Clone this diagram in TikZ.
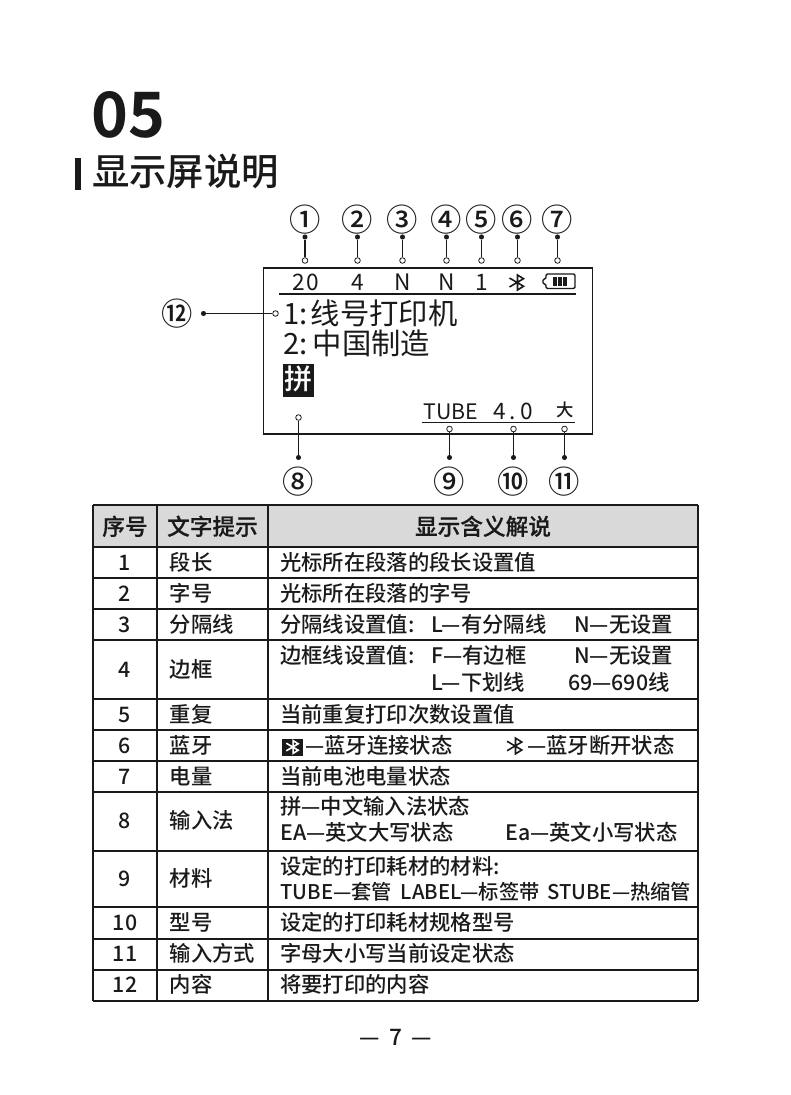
\documentclass[tikz,border=0pt]{standalone}
\usepackage{fontspec}
\setmainfont{Noto Sans CJK SC Medium}[BoldFont={Noto Sans CJK SC Bold}]
\newfontfamily\regfont{Noto Sans CJK SC}
\newcommand{\fs}[1]{\fontsize{#1}{#1}\selectfont}
\definecolor{hdr}{HTML}{D9D9D9}
\definecolor{ink}{HTML}{1A1A1A}
\tikzset{
  txt/.style={inner sep=0pt,text=ink,font=\fs{#1},text height=#1*.85pt,text depth=#1*.15pt},
  cell/.style={txt=16,anchor=west},
  small cell/.style={txt=15.2,anchor=west},
  cnum/.style={txt=16,anchor=center},
  hcell/.style={txt=17,anchor=center,font=\fs{17}\addfontfeature{FakeBold=0.4}},
  lcd/.style={txt=17,anchor=center},
  big/.style={txt=22,anchor=west},
  callout/.style={txt=23.5,anchor=center},
  rule/.style={line width=1.5pt,ink},
  lead/.style={line width=1pt,ink},
  opendot/.style={circle,draw=ink,fill=white,line width=.6pt,minimum size=4.2pt,inner sep=0pt},
  soliddot/.style={circle,fill=ink,minimum size=3.8pt,inner sep=0pt},
}
\newcommand{\btrune}[4]{% x,y,scale,colour
  \draw[#4,line width=1.2pt,line join=miter,x=#3*.75pt,y=-#3*.75pt,shift={(#1*.75pt,-#2*.75pt)}]
   (-8.5,-4.5) -- (5.5,3.8) -- (-.5,7.5) -- (-.5,-7.5) -- (5.5,-3.8) -- (-8.5,4.5);
}
\begin{document}
\begin{tikzpicture}[x=.75pt,y=-.75pt]
\useasboundingbox (0,0) rectangle (790,1095);
\fill[white] (0,0) rectangle (790,1095);
% title
\node[txt=47,anchor=west,font=\fs{47}\bfseries] (chap) at (91.5,116) {05};
\fill[ink] (75,158) rectangle (81,190);
\node[txt=28,anchor=west] (title) at (92,172) {显示屏说明};
% screen
\draw[line width=1.4pt,ink] (263.5,268) rectangle (592.5,434);
\draw[line width=1.1pt,ink] (279,294) -- (576,294);
\draw[line width=1.1pt,ink] (422,422.5) -- (574.5,422.5);
\node[lcd,font=\fs{17}\regfont\addfontfeature{LetterSpace=8}] (s1) at (306,283) {20};
\node[lcd,font=\fs{17}\regfont] (s2) at (357.5,283) {4};
\node[lcd,font=\fs{17}\regfont] (s3) at (402.5,283) {N};
\node[lcd,font=\fs{17}\regfont] (s4) at (446.5,283) {N};
\node[lcd,font=\fs{17}\regfont] (s5) at (481.5,283) {1};
\btrune{518}{282.5}{1}{ink}
% battery
\draw[ink,line width=1.1pt,rounded corners=1pt] (546,274) -- (575,274) -- (575,288.5) -- (546,288.5) -- (546,284) -- (543,284) -- (543,279) -- (546,279) -- cycle;
\fill[ink] (553,276.5) rectangle (556.5,286);
\fill[ink] (558,276.5) rectangle (561.5,286);
\fill[ink] (563,276.5) rectangle (566.5,286);
% screen text
\node[txt=22,anchor=west,font=\fs{22}\regfont] (n1) at (283,314) {1:};
\node[big,font=\fs{22}\regfont] (l1) at (310.5,314) {线号打印机};
\node[txt=22,anchor=west,font=\fs{22}\regfont] (n2) at (283,344) {2:};
\node[big,font=\fs{22}\regfont] (l2) at (312.5,344) {中国制造};
\fill[ink] (282.5,363.5) rectangle (313.5,396.5);
\node[txt=21,text=white,anchor=center] (pin) at (298,380) {拼};
\node[lcd,font=\fs{16}\regfont] (tube) at (451,412) {TUBE};
\node[lcd,font=\fs{17}\regfont\addfontfeature{LetterSpace=18}] (size) at (513,412) {4.0};
\node[txt=13,anchor=center] (da) at (565,410) {大};
% callouts top
\foreach \i/\lab/\px in {1/①/305,2/②/357.5,3/③/402.5,4/④/446.5,5/⑤/481.5,6/⑥/517.5,7/⑦/557.5}{
  \node[callout] (c\i) at (\px,221) {\lab};
  \node[soliddot] (d\i) at (\px,237) {};
  \node[opendot] (o\i) at (\px,260.5) {};
  \draw[lead] (d\i) -- (o\i);
}
% callouts bottom
\foreach \i/\lab/\px/\oy in {8/⑧/298.5/417.5,9/⑨/449.5/429,10/⑩/513.5/429,11/⑪/564.5/429}{
  \node[callout] (c\i) at (\px,483) {\lab};
  \node[soliddot] (d\i) at (\px,457.5) {};
  \node[opendot] (o\i) at (\px,\oy) {};
  \draw[lead] (d\i) -- (o\i);
}
% callout 12
\node[callout] (c12) at (177.5,315) {⑫};
\node[soliddot] (d12) at (203.5,313.5) {};
\node[opendot] (o12) at (275.5,313.5) {};
\draw[lead] (d12) -- (o12);
% table
\fill[hdr] (92.5,504.5) rectangle (698,547);
\foreach \yy in {504.5,547,578,609,640,699,730,761,792,851,907,938.5,970,1001}{
  \draw[rule] (92.5,\yy) -- (698,\yy);
}
\foreach \xx in {92.5,157,268,698}{
  \draw[rule] (\xx,504.5) -- (\xx,1001);
}
\node[hcell] (h1) at (125,527) {序号};
\node[hcell] (h2) at (212.5,527) {文字提示};
\node[hcell] (h3) at (483,527) {显示含义解说};
\foreach \i/\yy/\name in {1/563/段长,2/594/字号,3/625/分隔线,4/670/边框,5/715/重复,6/746/蓝牙,7/777/电量,8/821/输入法,9/879/材料,10/923/型号,11/954/输入方式,12/985.5/内容}{
  \node[cnum] (a\i) at (125,\yy) {\i};
  \node[cell] (b\i) at (169.5,\yy) {\name};
}
\node[cell] (t1) at (280,563) {光标所在段落的段长设置值};
\node[cell] (t2) at (280,594) {光标所在段落的字号};
\node[cell] (t3a) at (280,625) {分隔线设置值:};
\node[cell] (t3b) at (431,625) {L—有分隔线};
\node[cell] (t3c) at (574,625) {N—无设置};
\node[cell] (t4a) at (280,656.5) {边框线设置值:};
\node[cell] (t4b) at (431,656.5) {F—有边框};
\node[cell] (t4c) at (574,656.5) {N—无设置};
\node[cell] (t4d) at (431,683) {L—下划线};
\node[cell] (t4e) at (568,683) {69—690线};
\node[cell] (t5) at (280,715) {当前重复打印次数设置值};
% row 6
\fill[ink] (282,739) rectangle (303,755.5);
\btrune{293.5}{747}{.85}{white}
\node[cell] (t6a) at (305,746) {—蓝牙连接状态};
\btrune{516}{746}{1.05}{ink}
\node[cell] (t6b) at (527,746) {—蓝牙断开状态};
\node[cell] (t7) at (280,777) {当前电池电量状态};
\node[cell] (t8a) at (280,807.5) {拼—中文输入法状态};
\node[cell] (t8b) at (280,833.5) {EA—英文大写状态};
\node[cell] (t8c) at (505,833.5) {Ea—英文小写状态};
\node[cell] (t9a) at (280,867) {设定的打印耗材的材料:};
\node[small cell] (t9b) at (280,892.5) {TUBE—套管};
\node[small cell] (t9c) at (400.5,892.5) {LABEL—标签带};
\node[small cell] (t9d) at (547,892.5) {STUBE—热缩管};
\node[cell] (t10) at (280,923) {设定的打印耗材规格型号};
\node[cell] (t11) at (280,954) {字母大小写当前设定状态};
\node[cell] (t12) at (280,985.5) {将要打印的内容};
\node[txt=17,anchor=center] (page) at (395.5,1038) {—\hspace{.4em}7\hspace{.4em}—};
\end{tikzpicture}
\end{document}
